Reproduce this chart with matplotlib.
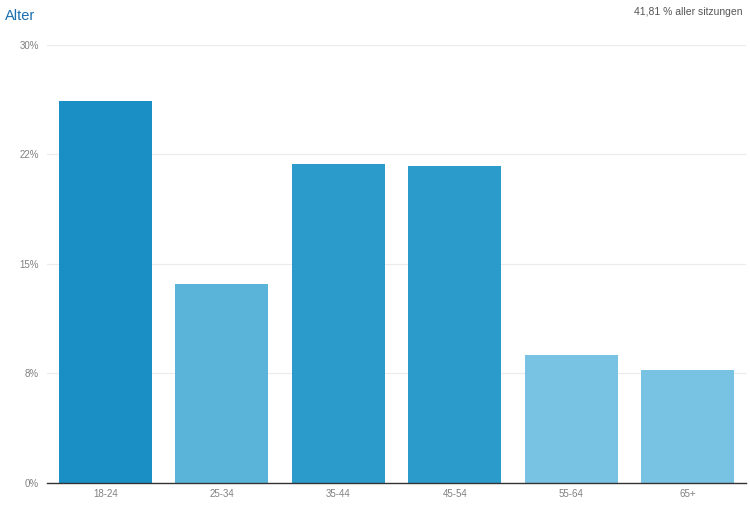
import matplotlib
matplotlib.use("Agg")
import matplotlib.pyplot as plt

plt.rcParams["font.family"] = ["Liberation Sans", "DejaVu Sans"]

categories = ["18-24", "25-34", "35-44", "45-54", "55-64", "65+"]
values = [26.15, 13.6, 21.85, 21.7, 8.75, 7.75]
colors = ["#1a8fc6", "#5ab4da", "#2b9bcc", "#2b9bcc", "#78c3e3", "#78c3e3"]
ytick_vals = [0, 7.5, 15, 22.5, 30]
ytick_labels = ["0%", "8%", "15%", "22%", "30%"]

fig = plt.figure(figsize=(7.5, 5.05), dpi=100)
ax = fig.add_axes([0.0627, 0.0436, 0.932, 0.8674])

x = range(len(categories))
ax.bar(x, values, width=0.8, color=colors, zorder=2)

ax.set_xlim(-0.5, len(categories) - 0.5)
ax.set_ylim(0, 30)
ax.set_yticks(ytick_vals)
ax.set_yticklabels(ytick_labels)
ax.set_xticks(list(x))
ax.set_xticklabels(categories)
ax.tick_params(axis="both", length=0, labelsize=7, colors="#808080")
ax.tick_params(axis="y", pad=6)
ax.tick_params(axis="x", pad=4)

ax.grid(axis="y", color="#ebebeb", linewidth=0.8, zorder=0)
for side in ("top", "right", "left"):
  ax.spines[side].set_visible(False)
ax.spines["bottom"].set_color("#333333")
ax.spines["bottom"].set_linewidth(1.0)
ax.spines["bottom"].set_zorder(3)

fig.text(0.007, 0.968, "Alter", color="#1a6fb0", fontsize=10.5, va="center", ha="left")
fig.text(0.99, 0.976, "41,81 % aller sitzungen", color="#555555", fontsize=7.5,
         va="center", ha="right")

fig.savefig("out.png", dpi=100)
